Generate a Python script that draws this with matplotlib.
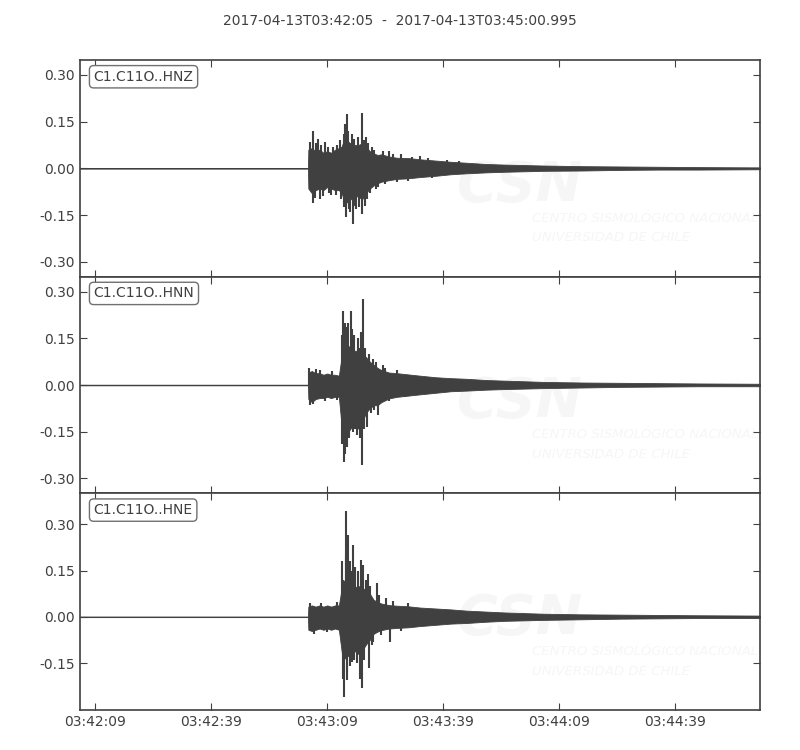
import matplotlib
matplotlib.use("Agg")
import matplotlib.pyplot as plt
import numpy as np

TITLE = "2017-04-13T03:42:05  -  2017-04-13T03:45:00.995"
CHANNELS = ["C1.C11O..HNZ", "C1.C11O..HNN", "C1.C11O..HNE"]
DURATION = 175.995  # seconds after 03:42:05
XTICKS = [4, 34, 64, 94, 124, 154]
XTICKLABELS = ["03:42:09", "03:42:39", "03:43:09", "03:43:39", "03:44:09", "03:44:39"]
YLIMS = [(-0.348, 0.348), (-0.348, 0.348), (-0.302, 0.40)]
YTICKS = [[-0.30, -0.15, 0.0, 0.15, 0.30],
          [-0.30, -0.15, 0.0, 0.15, 0.30],
          [-0.15, 0.0, 0.15, 0.30]]

# envelope times (s after start)
band_t = [0, 59.0, 59.1, 60, 61, 62, 63, 64, 65, 66, 67, 67.7, 68, 69, 70, 71, 72, 73,
          74, 75, 76, 77, 78, 80, 82, 85, 88, 92, 96, 100, 105, 110, 120, 130, 140,
          150, 160, 176]
# HNZ
z_hi = [0.001, 0.001, 0.06, 0.065, 0.055, 0.06, 0.05, 0.055, 0.05, 0.06, 0.065, 0.07,
        0.08, 0.09, 0.08, 0.075, 0.075, 0.08, 0.07, 0.055, 0.048, 0.043, 0.045, 0.038,
        0.034, 0.033, 0.029, 0.025, 0.021, 0.018, 0.014, 0.012, 0.009, 0.007, 0.006,
        0.005, 0.004, 0.003]
z_lo = [-0.001, -0.001, -0.065, -0.08, -0.07, -0.065, -0.07, -0.06, -0.065, -0.07, -0.07,
        -0.08, -0.09, -0.11, -0.10, -0.09, -0.09, -0.10, -0.08, -0.065, -0.055, -0.048,
        -0.043, -0.038, -0.034, -0.032, -0.028, -0.024, -0.019, -0.016, -0.013, -0.011,
        -0.008, -0.007, -0.005, -0.004, -0.004, -0.003]
# HNN
n_hi = [0.001, 0.001, 0.04, 0.045, 0.038, 0.038, 0.033, 0.037, 0.033, 0.033, 0.03, 0.09,
        0.13, 0.13, 0.12, 0.11, 0.11, 0.10, 0.09, 0.075, 0.065, 0.055, 0.048, 0.04, 0.038,
        0.034, 0.03, 0.025, 0.022, 0.02, 0.016, 0.014, 0.01, 0.008, 0.007, 0.006,
        0.005, 0.004]
n_lo = [-0.001, -0.001, -0.045, -0.055, -0.045, -0.042, -0.042, -0.038, -0.042, -0.038,
        -0.038, -0.13, -0.17, -0.16, -0.14, -0.13, -0.14, -0.12, -0.09, -0.075, -0.065,
        -0.065, -0.055, -0.043, -0.038, -0.034, -0.03, -0.025, -0.02, -0.018, -0.015,
        -0.013, -0.01, -0.008, -0.006, -0.005, -0.004, -0.004]
# HNE
e_hi = [0.001, 0.001, 0.033, 0.037, 0.033, 0.037, 0.033, 0.037, 0.033, 0.037, 0.037, 0.09,
        0.12, 0.11, 0.10, 0.095, 0.10, 0.095, 0.085, 0.075, 0.055, 0.048, 0.043, 0.038,
        0.036, 0.034, 0.03, 0.027, 0.024, 0.02, 0.017, 0.014, 0.01, 0.008, 0.007, 0.006,
        0.005, 0.004]
e_lo = [-0.001, -0.001, -0.042, -0.046, -0.042, -0.038, -0.042, -0.038, -0.042, -0.038,
        -0.042, -0.11, -0.14, -0.13, -0.12, -0.11, -0.12, -0.11, -0.09, -0.075, -0.055,
        -0.048, -0.043, -0.038, -0.036, -0.034, -0.03, -0.026, -0.022, -0.02, -0.016,
        -0.013, -0.01, -0.008, -0.006, -0.005, -0.004, -0.004]

# individual peaks (time s, amplitude)
z_peak_t = [59.5, 60.2, 60.4, 60.8, 61.0, 61.5, 62.0, 62.5, 63.0, 63.5, 64.2, 64.5,
            65.0, 65.5, 66.2, 66.5, 67.2, 67.5, 68.2, 68.3, 68.6, 68.8, 69.0, 69.3,
            69.6, 70.0, 70.3, 70.6, 71.0, 71.2, 71.5, 72.0, 72.3, 72.9, 72.95, 73.5,
            73.8, 74.0, 74.2, 74.6, 75.0, 75.5, 76.0, 76.5, 77.0, 78.5, 79.0, 80.0,
            81.0, 82.0, 83.0, 85.0, 86.0, 88.0, 90.0, 91.0, 95.0, 98.0]
z_peak_v = [0.085, -0.11, 0.12, -0.095, 0.08, 0.095, -0.10, 0.075, -0.09, 0.085,
            0.07, -0.08, -0.085, 0.07, -0.085, 0.075, 0.09, -0.10, 0.11, -0.125, 0.144,
            -0.157, 0.174, 0.12, -0.13, -0.14, 0.11, -0.18, 0.095, -0.12, -0.13, 0.10,
            -0.125, 0.178, -0.146, 0.09, -0.12, 0.10, -0.10, 0.08, -0.08, 0.07, 0.06,
            -0.065, -0.06, 0.055, -0.05, 0.055, 0.045, -0.045, 0.045, -0.04, 0.038,
            0.04, 0.032, -0.03, 0.028, 0.025]
n_peak_t = [59.3, 59.6, 60.4, 61.0, 62.0, 63.5, 65.3, 66.5, 67.8, 67.9, 68.15, 68.3,
            68.5, 68.7, 69.0, 69.05, 69.45, 69.7, 70.05, 70.3, 70.6, 71.0, 71.3, 71.6,
            71.9, 72.2, 72.5, 72.6, 72.9, 73.16, 73.4, 73.8, 74.4, 74.8, 75.3, 75.9,
            76.2, 76.5, 77.2, 78.5, 79.0, 80.0, 82.0, 84.0]
n_peak_v = [0.055, -0.065, -0.06, 0.05, 0.048, -0.05, 0.045, -0.048, 0.16, -0.19,
            0.239, -0.248, 0.20, -0.22, 0.187, -0.20, 0.20, -0.17, 0.239, 0.18, -0.15,
            0.16, -0.14, -0.16, 0.15, 0.12, -0.17, 0.17, -0.257, 0.276, -0.14, 0.12,
            -0.135, 0.10, -0.09, 0.085, -0.08, 0.075, -0.096, 0.065, 0.055, -0.05,
            0.048, -0.04]
e_peak_t = [59.4, 60.5, 62.5, 64.0, 66.5, 67.5, 67.9, 68.0, 68.41, 68.76, 68.9, 69.0,
            69.2, 69.45, 69.8, 70.0, 70.3, 70.5, 70.74, 71.0, 71.3, 71.8, 72.0, 72.5,
            72.64, 72.9, 73.0, 73.33, 73.6, 74.0, 74.62, 74.7, 75.0, 75.5, 75.9, 76.78,
            77.5, 78.0, 79.2, 80.2, 81.0, 83.0, 85.0]
e_peak_v = [0.045, -0.055, 0.045, -0.05, 0.048, -0.05, 0.18, -0.20, -0.259, 0.342,
            0.20, -0.205, -0.18, 0.265, 0.18, -0.16, -0.146, 0.15, 0.232, -0.14, 0.16,
            -0.15, 0.15, -0.20, 0.184, -0.23, 0.13, 0.167, -0.14, 0.12, 0.14, -0.167,
            0.10, -0.09, -0.08, 0.111, 0.07, -0.06, 0.06, -0.08, 0.05, -0.045, 0.045]

bands = [(z_hi, z_lo), (n_hi, n_lo), (e_hi, e_lo)]
peaks = [(z_peak_t, z_peak_v), (n_peak_t, n_peak_v), (e_peak_t, e_peak_v)]

FG = "#404040"
WM = "#f6f6f6"
plt.rcParams["font.family"] = "DejaVu Sans"
plt.rcParams["font.size"] = 10

fig = plt.figure(figsize=(8, 7.5), dpi=100)
fig.subplots_adjust(left=0.1, right=0.95, top=0.92, bottom=0.0533, hspace=0)
axes = [fig.add_subplot(3, 1, i + 1) for i in range(3)]

for i, ax in enumerate(axes):
    hi, lo = bands[i]
    # faint watermark
    ax.text(0.555, 0.42, "CSN", transform=ax.transAxes, fontsize=40, fontweight="bold",
            style="italic", color=WM, ha="left", va="center", zorder=0, clip_on=True)
    ax.text(0.665, 0.27, "CENTRO SISMOLÓGICO NACIONAL", transform=ax.transAxes,
            fontsize=9.5, style="italic", color=WM, ha="left", va="center",
            zorder=0, clip_on=True)
    ax.text(0.665, 0.18, "UNIVERSIDAD DE CHILE", transform=ax.transAxes,
            fontsize=9.5, style="italic", color=WM, ha="left", va="center",
            zorder=0, clip_on=True)
    ax.fill_between(band_t, lo, hi, facecolor=FG, edgecolor=FG, lw=0.6, zorder=2)
    pt, pv = peaks[i]
    ax.vlines(pt, 0, pv, color=FG, lw=1.5, zorder=2)
    ax.set_xlim(0, DURATION)
    ax.set_ylim(*YLIMS[i])
    ax.set_yticks(YTICKS[i])
    ax.set_yticklabels([f"{v:.2f}" for v in YTICKS[i]])
    ax.set_xticks(XTICKS)
    if i == 2:
        ax.set_xticklabels(XTICKLABELS)
    else:
        ax.set_xticklabels([])
    ax.tick_params(direction="in", top=True, right=True, length=5, width=0.8,
                   colors=FG, labelcolor=FG, labelsize=10)
    for s in ax.spines.values():
        s.set_color(FG)
        s.set_linewidth(1.2)
    ax.text(0.02, 0.955, CHANNELS[i], transform=ax.transAxes, ha="left", va="top",
            color=FG, fontsize=10, zorder=5,
            bbox=dict(boxstyle="round,pad=0.3", fc="white", ec="#707070", lw=1.0))

fig.text(0.5, 0.972, TITLE, ha="center", va="center", color=FG, fontsize=10)
fig.savefig("out.png", dpi=100, facecolor="white")
